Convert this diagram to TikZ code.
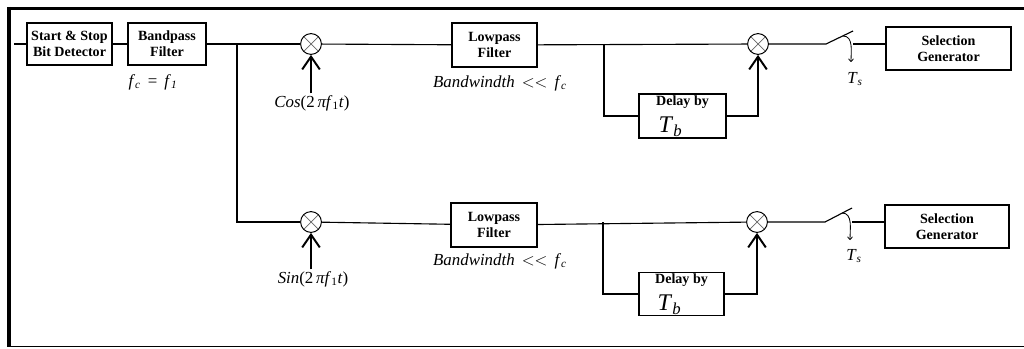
\documentclass[tikz,border=0pt]{standalone}
\usepackage{fontspec}
\setmainfont{Liberation Serif}
\usetikzlibrary{arrows.meta}

% italic symbol with italic subscript
\newcommand{\sig}[2]{\textit{#1}\textsubscript{\textit{#2}}}

\begin{document}
\begin{tikzpicture}[x=0.025cm,y=-0.025cm,line width=0.8pt,
    box/.style={draw,line width=0.8pt,align=center,inner sep=0pt,
        font=\bfseries\fontsize{10}{11.5}\selectfont},
    mixer/.style={draw,circle,line width=0.7pt,minimum size=0.52cm,inner sep=0pt,
        path picture={
            \draw[line width=0.5pt,black!60]
                ([shift={(45:0.26cm)}]path picture bounding box.center) --
                ([shift={(225:0.26cm)}]path picture bounding box.center);
            \draw[line width=0.5pt,black!60]
                ([shift={(135:0.26cm)}]path picture bounding box.center) --
                ([shift={(315:0.26cm)}]path picture bounding box.center);}},
    mixin/.style={-{Straight Barb[length=3.2mm,width=4.4mm,line width=1.4pt]}},
    lbl/.style={font=\fontsize{12}{14}\selectfont,inner sep=1pt},
    sample/.style={-{To[length=2.5pt,width=4pt]},line width=0.6pt}]
    \useasboundingbox (0,0) rectangle (1024,348);

    % frame
    \draw[line width=2.8pt] (8,8.5) -- (1024,8.5);
    \draw[line width=2.8pt] (9.3,7) -- (9.3,347);
    \draw[line width=0.8pt] (8,346.5) -- (1024,346.5);

    % front end
    \coordinate (in) at (14,44);
    \node[box,minimum width=2.125cm,minimum height=1.05cm] (ssd) at (69.5,44) {Start \& Stop\\Bit Detector};
    \node[box,minimum width=1.95cm,minimum height=1.05cm] (bpf) at (167,44) {Bandpass\\Filter};
    \node[lbl] (fc) at (153,82) {\sig{f}{c}\, = \,\sig{f}{1}};
    \coordinate (brA) at (237,44);

    \draw (in) -- (ssd);
    \draw (ssd) -- (bpf);
    \draw (bpf) -- (brA);

    % upper branch (cos)
    \node[mixer] (mixC) at (311,44) {};
    \node[lbl] (cos) at (312,103) {\textit{Cos}(2\,\textit{πf}\textsubscript{1}\textit{t})};
    \node[box,minimum width=2.125cm,minimum height=1.1cm] (lpfA) at (494.5,45) {Lowpass\\Filter};
    \node[lbl] (bwA) at (500,83) {\textit{Bandwindth} \,$<<$\, \sig{f}{c}};
    \coordinate (brB) at (604,44);
    \node[box,minimum width=2.175cm,minimum height=1.1cm] (dlyA) at (682.5,116) {Delay by\\[5pt]\hspace*{-0.6cm}{\mdseries\fontsize{17}{17}\selectfont\sig{T}{b}}};
    \node[mixer] (mixA) at (758,44) {};
    \coordinate (swAa) at (826,44);
    \coordinate (swAb) at (853,31);
    \coordinate (swAc) at (853,44);
    \coordinate (swAp) at (843,36);
    \coordinate (swAt) at (851,62);
    \node[lbl] (tsA) at (855,79) {\sig{T}{s}};
    \node[box,minimum width=3.125cm,minimum height=1.075cm] (selA) at (948.5,48.5) {Selection\\Generator};

    \draw (brA) -- (mixC);
    \draw[mixin] (mixC |- cos.north) -- (mixC.south);
    \draw (mixC) -- (lpfA);
    \draw (lpfA) -- (mixA);
    \draw (brB) |- (dlyA.west);
    \draw[mixin] (dlyA.east) -| (mixA.south);
    \draw (mixA) -- (swAa) -- (swAb);
    \draw[sample] (swAp) to[out=0,in=90] (swAt);
    \draw (swAc) -- (swAc -| selA.west);

    % lower branch (sin)
    \node[mixer] (mixS) at (311,222) {};
    \node[lbl] (sin) at (313,279) {\textit{Sin}(2\,\textit{πf}\textsubscript{1}\textit{t})};
    \node[box,minimum width=2.15cm,minimum height=1.1cm] (lpfB) at (494,225) {Lowpass\\Filter};
    \node[lbl] (bwB) at (500,261) {\textit{Bandwindth} \,$<<$\, \sig{f}{c}};
    \coordinate (brC) at (603,222);
    \node[box,minimum width=2.125cm,minimum height=1.075cm] (dlyB) at (681.5,294) {Delay by\\[5pt]\hspace*{-0.6cm}{\mdseries\fontsize{17}{17}\selectfont\sig{T}{b}}};
    \node[mixer] (mixB) at (757,222) {};
    \coordinate (swBa) at (825,222);
    \coordinate (swBb) at (852,208);
    \coordinate (swBc) at (852,222);
    \coordinate (swBp) at (842,213);
    \coordinate (swBt) at (850,240);
    \node[lbl] (tsB) at (854,256) {\sig{T}{s}};
    \node[box,minimum width=3.1cm,minimum height=1.075cm] (selB) at (947,226.5) {Selection\\Generator};

    \draw (brA) |- (mixS);
    \draw[mixin] (mixS |- sin.north) -- (mixS.south);
    \draw (mixS) -- (lpfB);
    \draw (lpfB) -- (mixB);
    \draw (brC) |- (dlyB.west);
    \draw[mixin] (dlyB.east) -| (mixB.south);
    \draw (mixB) -- (swBa) -- (swBb);
    \draw[sample] (swBp) to[out=0,in=90] (swBt);
    \draw (swBc) -- (swBc -| selB.west);
\end{tikzpicture}
\end{document}
